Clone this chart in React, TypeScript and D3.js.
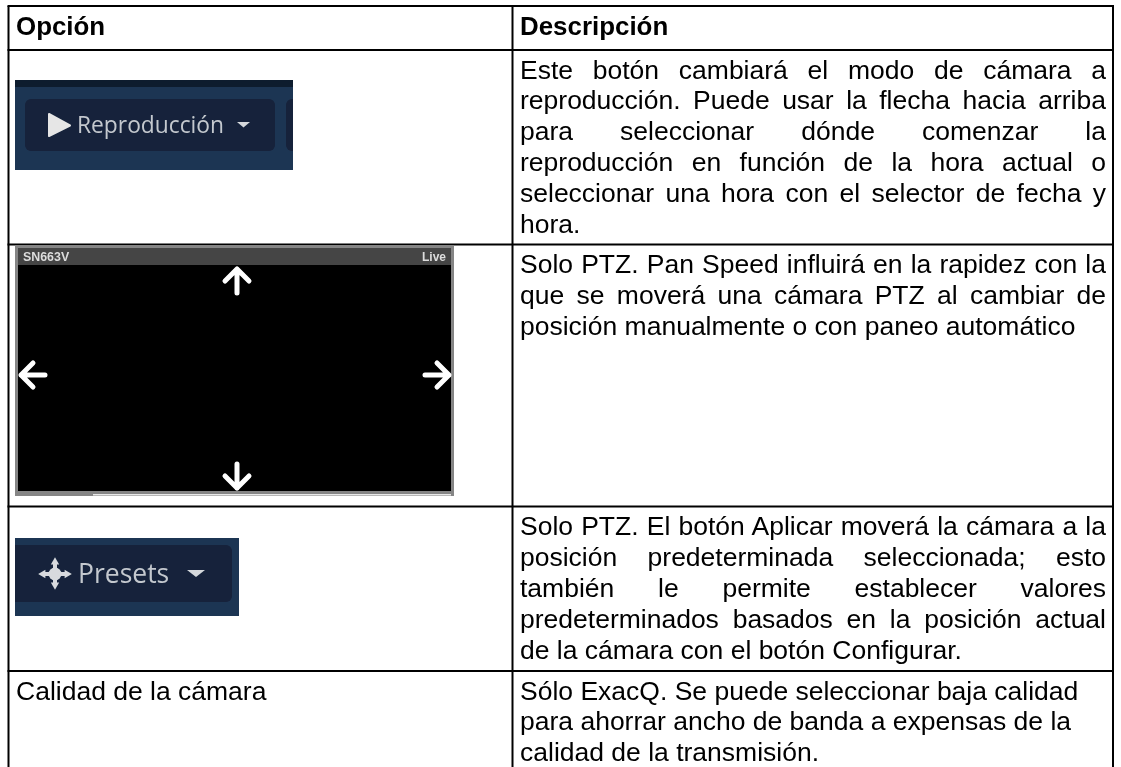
import React, { useEffect, useRef } from "react";
import * as d3 from "d3";

const headers = ["Opción", "Descripción"];
const optionLabels = ["", "", "", "Calidad de la cámara"];
const descriptions: { t: string; j: boolean }[][] = [
  [
    { t: "Este botón cambiará el modo de cámara a", j: true },
    { t: "reproducción. Puede usar la flecha hacia arriba", j: true },
    { t: "para seleccionar dónde comenzar la", j: true },
    { t: "reproducción en función de la hora actual o", j: true },
    { t: "seleccionar una hora con el selector de fecha y", j: true },
    { t: "hora.", j: false },
  ],
  [
    { t: "Solo PTZ. Pan Speed influirá en la rapidez con la", j: true },
    { t: "que se moverá una cámara PTZ al cambiar de", j: true },
    { t: "posición manualmente o con paneo automático", j: false },
  ],
  [
    { t: "Solo PTZ. El botón Aplicar moverá la cámara a la", j: true },
    { t: "posición predeterminada seleccionada; esto", j: true },
    { t: "también le permite establecer valores", j: true },
    { t: "predeterminados basados en la posición actual", j: true },
    { t: "de la cámara con el botón Configurar.", j: false },
  ],
  [
    { t: "Sólo ExacQ. Se puede seleccionar baja calidad", j: false },
    { t: "para ahorrar ancho de banda a expensas de la", j: false },
    { t: "calidad de la transmisión.", j: false },
  ],
];
const rowEdges = [6, 50, 244.5, 506.5, 671, 767];
const colEdges = [8.5, 512.5, 1113];
const FONT = "'Liberation Sans', Arial, sans-serif";
const UI = "'Open Sans', sans-serif";
const LINE = 30.9;
const FS = 26.5;

export default function App() {
  const ref = useRef<SVGSVGElement>(null);
  useEffect(() => {
    const svg = d3.select(ref.current!);
    svg.selectAll("*").remove();
    const defs = svg.append("defs");
    defs.append("filter").attr("id", "soft").append("feGaussianBlur").attr("stdDeviation", 0.55);
    defs.append("filter").attr("id", "tsoft").append("feGaussianBlur").attr("stdDeviation", 0.3);

    // Table text
    const tg = svg.append("g").attr("filter", "url(#tsoft)").attr("font-family", FONT).attr("font-size", FS).attr("fill", "#000");
    tg.selectAll("text.h").data(headers).join("text").attr("class", "h")
      .attr("x", (_, i) => colEdges[i] + 7.5).attr("y", 35).attr("font-size", 25.9).attr("font-weight", 700).text((d) => d);
    tg.selectAll("text.o").data(optionLabels.filter(Boolean)).join("text").attr("class", "o")
      .attr("x", colEdges[0] + 7.5).attr("y", rowEdges[4] + 28.5).text((d) => d);

    const right = 1106;
    const left = colEdges[1] + 7.5;
    descriptions.forEach((lines, r) => {
      const g = tg.append("g");
      g.selectAll("text").data(lines).join("text")
        .attr("x", left)
        .attr("y", (_, i) => rowEdges[r + 1] + 28.5 + i * LINE)
        .text((d) => d.t)
        .each(function (d) {
          if (!d.j) return;
          const el = this as SVGTextElement;
          const gaps = d.t.split(" ").length - 1;
          const extra = (right - left - el.getComputedTextLength()) / gaps;
          el.style.wordSpacing = `${extra}px`;
        });
    });

    // Grid
    const grid = svg.append("g").attr("stroke", "#000").attr("stroke-width", 2);
    grid.selectAll("line.r").data(rowEdges.slice(0, 5)).join("line").attr("class", "r")
      .attr("x1", colEdges[0] - 1).attr("x2", colEdges[2] + 1).attr("y1", (d) => d).attr("y2", (d) => d);
    grid.selectAll("line.c").data(colEdges).join("line").attr("class", "c")
      .attr("x1", (d) => d).attr("x2", (d) => d).attr("y1", rowEdges[0]).attr("y2", 767);

    // Reproduction button
    defs.append("clipPath").attr("id", "c1").append("rect").attr("x", 15).attr("y", 80).attr("width", 278).attr("height", 90);
    const a = svg.append("g").attr("clip-path", "url(#c1)").append("g").attr("filter", "url(#soft)");
    a.append("rect").attr("x", 10).attr("y", 75).attr("width", 290).attr("height", 100).attr("fill", "#1f3553");
    a.append("rect").attr("x", 10).attr("y", 75).attr("width", 290).attr("height", 12).attr("fill", "#0a1a2e");
    a.append("rect").attr("x", 25).attr("y", 99).attr("width", 250).attr("height", 52).attr("rx", 6).attr("fill", "#14233b");
    a.append("rect").attr("x", 286).attr("y", 99).attr("width", 40).attr("height", 52).attr("rx", 6).attr("fill", "#14233b");
    a.append("path").attr("d", "M49 114L70 125.5L49 136Z").attr("fill", "#e6e6e6").attr("stroke", "#e6e6e6").attr("stroke-linejoin", "round").attr("stroke-width", 2);
    a.append("text").attr("x", 77).attr("y", 133).attr("font-family", UI).attr("font-size", 22.8).attr("fill", "#c4c8ce").text("Reproducción");
    a.append("path").attr("d", "M237 122H250L243.5 127.5Z").attr("fill", "#d5d8dc");

    // Camera
    const arrow = (cx: number, cy: number, rot: number) => {
      const p = d3.path();
      p.moveTo(0, 12); p.lineTo(0, -12);
      p.moveTo(-12, 0); p.lineTo(0, -12); p.lineTo(12, 0);
      return { d: p.toString(), t: `translate(${cx},${cy}) rotate(${rot})` };
    };
    const c = svg.append("g").attr("filter", "url(#soft)");
    c.append("rect").attr("x", 15).attr("y", 245).attr("width", 439).attr("height", 251).attr("fill", "#858585");
    c.append("rect").attr("x", 18).attr("y", 248).attr("width", 433).attr("height", 17).attr("fill", "#444");
    c.append("rect").attr("x", 18).attr("y", 265).attr("width", 433).attr("height", 226).attr("fill", "#000");
    c.append("rect").attr("x", 93).attr("y", 494).attr("width", 358).attr("height", 1.5).attr("fill", "#e8e8e8");
    c.append("text").attr("x", 23).attr("y", 261).attr("font-family", FONT).attr("font-weight", 700).attr("font-size", 12.4).attr("fill", "#ddd").text("SN663V");
    c.append("text").attr("x", 446).attr("y", 261).attr("text-anchor", "end").attr("font-family", FONT).attr("font-weight", 700).attr("font-size", 12).attr("fill", "#ddd").text("Live");
    [arrow(237, 281, 0), arrow(237, 476, 180), arrow(33, 375, -90), arrow(437, 375, 90)].forEach((ar) => {
      c.append("path").attr("d", ar.d).attr("transform", ar.t).attr("fill", "none").attr("stroke", "#fff")
        .attr("stroke-width", 5).attr("stroke-linecap", "round").attr("stroke-linejoin", "round");
    });

    // Presets
    defs.append("clipPath").attr("id", "c3").append("rect").attr("x", 15).attr("y", 538).attr("width", 224).attr("height", 78);
    const b = svg.append("g").attr("clip-path", "url(#c3)").append("g").attr("filter", "url(#soft)");
    b.append("rect").attr("x", 10).attr("y", 533).attr("width", 235).attr("height", 88).attr("fill", "#1f3553");
    b.append("rect").attr("x", -10).attr("y", 545).attr("width", 242).attr("height", 57).attr("rx", 6).attr("fill", "#14233b");
    const mv = d3.path();
    mv.moveTo(55, 564); mv.lineTo(55, 584); mv.moveTo(44, 574); mv.lineTo(66, 574);
    b.append("path").attr("d", mv.toString()).attr("stroke", "#d8dade").attr("stroke-width", 4).attr("fill", "none");
    [[55, 562, 0], [55, 585, 180], [43, 574, -90], [67, 574, 90]].forEach(([x, y, r]) => {
      b.append("path").attr("d", d3.symbol(d3.symbolTriangle, 30)()!).attr("transform", `translate(${x},${y}) rotate(${r})`).attr("fill", "#d8dade");
    });
    b.append("circle").attr("cx", 55).attr("cy", 574).attr("r", 6.5).attr("fill", "#d8dade");
    b.append("text").attr("x", 78).attr("y", 583).attr("font-family", UI).attr("font-size", 26.5).attr("fill", "#c4c8ce").text("Presets");
    b.append("path").attr("d", "M187 570H205L196 577Z").attr("fill", "#d5d8dc");
  }, []);
  return (
    <svg ref={ref} width={1121} height={767} style={{ position: "absolute", left: 0, top: 0, background: "#fff" }} />
  );
}
